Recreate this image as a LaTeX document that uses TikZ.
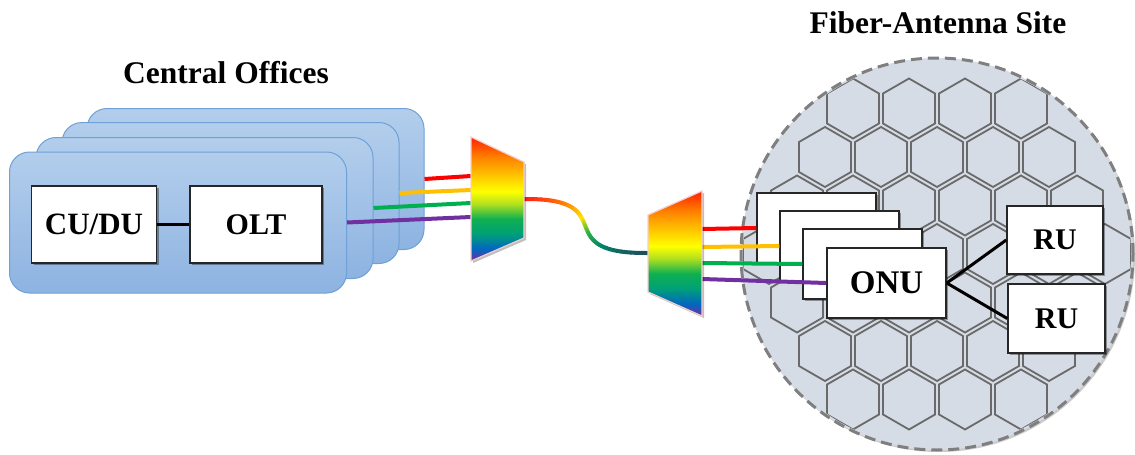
\documentclass[tikz,border=0pt]{standalone}
\usepackage{fontspec}
\setmainfont{Liberation Serif}
\usetikzlibrary{shadows}

\newcommand\lblfont{\bfseries\fontsize{30}{34}\selectfont}
\newcommand\bigfont{\bfseries\fontsize{31.5}{36}\selectfont}

% palette
\definecolor{coFillTop}{HTML}{B3CEEC}
\definecolor{coFillBot}{HTML}{8DB3E1}
\definecolor{coEdge}{HTML}{6FA0D6}
\definecolor{siteFill}{HTML}{D6DCE5}
\definecolor{siteEdge}{HTML}{7F7F7F}
\definecolor{hexEdge}{HTML}{6A6A6A}
\definecolor{wRed}{HTML}{FF0000}
\definecolor{wYellow}{HTML}{FFC000}
\definecolor{wGreen}{HTML}{00B050}
\definecolor{wPurple}{HTML}{7030A0}
\definecolor{muxEdge}{HTML}{F2CFCF}
% rainbow stops of the (de)multiplexers
\definecolor{mPurple}{HTML}{7030A0}
\definecolor{mBlue}{HTML}{0068C0}
\definecolor{mTeal}{HTML}{00A078}
\definecolor{mGreen}{HTML}{10B050}
\definecolor{mLime}{HTML}{B0E020}
\definecolor{mYellow}{HTML}{FFFF00}
\definecolor{mGold}{HTML}{FFC000}
\definecolor{mOrange}{HTML}{FF8000}
\definecolor{mRed}{HTML}{FF2000}
% stops along the trunk fibre
\definecolor{fRed}{HTML}{FF1A1A}
\definecolor{fOrange}{HTML}{FF8C00}
\definecolor{fYellow}{HTML}{FFE600}
\definecolor{fGreen}{HTML}{2DB34A}
\definecolor{fTeal}{HTML}{00806A}
\definecolor{fDark}{HTML}{1F4D5C}

\pgfdeclareverticalshading{rainbow}{100bp}{%
  color(0bp)=(mPurple); color(25bp)=(mPurple); color(30bp)=(mBlue);
  color(36bp)=(mTeal); color(42bp)=(mGreen); color(48bp)=(mLime);
  color(53bp)=(mYellow); color(60bp)=(mGold); color(67bp)=(mOrange);
  color(75bp)=(mRed); color(100bp)=(mRed)}

\begin{document}
\begin{tikzpicture}[x=1pt,y=-1pt,
  cobox/.style={draw=coEdge, line width=1, rounded corners=20,
    top color=coFillTop, bottom color=coFillBot,
    minimum width=337, minimum height=141, inner sep=0},
  wbox/.style={draw=black!85, line width=1.5, fill=white, font=\lblfont,
    inner sep=0, drop shadow={shadow xshift=2pt, shadow yshift=-2pt,
    opacity=0.35, fill=black}},
  title/.style={font=\bigfont, inner sep=0},
  link/.style={draw=black, line width=2.5},
  wire/.style={line width=4},
  hexcell/.style={draw=hexEdge, line width=1.8},
  mux/.style={shade, shading=rainbow, draw=muxEdge, line width=1.2,
    drop shadow={shadow xshift=2pt, shadow yshift=-2pt, opacity=0.25, fill=black}},
  siteDisc/.style={circle, fill=siteFill, minimum size=392, inner sep=0,
    drop shadow={shadow xshift=2pt, shadow yshift=-2pt, opacity=0.2, fill=black}},
  siteRing/.style={circle, draw=siteEdge, line width=3, dash pattern=on 11pt off 6pt,
    minimum size=392, inner sep=0}
]
\useasboundingbox (0,0) rectangle (1135,455);

% ---------------- central offices ----------------
\node[cobox] (co4) at (255.5,179) {};
\node[cobox] (co3) at (230.5,193) {};
\node[cobox] (co2) at (204.5,208) {};
\node[cobox] (co1) at (178,222.5) {};
\node[wbox, font=\bfseries\fontsize{31}{36}\selectfont,
  minimum width=125, minimum height=77] (cudu) at (94,224.5) {CU/DU};
\node[wbox, minimum width=132, minimum height=77] (olt) at (256,224.5) {OLT};
\draw[link] (cudu) -- (olt);
\node[title] (cotitle) at (226,73) {Central Offices};

% ---------------- fibre-antenna site ----------------
\node[siteDisc] (site) at (937,254) {};
% honeycomb of cells: rows of 4,5,6,7,6,5,4 around the centre
\begin{scope}
  \clip (site.center) circle[radius=194];
  \foreach \r in {-3,...,3}{
    \pgfmathtruncatemacro\n{6-abs(\r)}
    \pgfmathsetmacro\yy{254+48.5*\r}
    \foreach \c in {0,...,\n}{
      \pgfmathsetmacro\xx{937-28*\n+56*\c}
      \draw[hexcell] (\xx,\yy) +(90:30) -- +(150:30) -- +(210:30)
        -- +(270:30) -- +(330:30) -- +(30:30) -- cycle;
    }
  }
\end{scope}
\node[siteRing] (ring) at (site.center) {};
\node[title] (sitetitle) at (938,23) {Fiber-Antenna Site};

\node[wbox, minimum width=119, minimum height=70] (onu1) at (816.5,228) {};
\node[wbox, minimum width=119, minimum height=70] (onu2) at (839.5,246) {};
\node[wbox, minimum width=119, minimum height=70] (onu3) at (862.5,264) {};
\node[wbox, font=\bfseries\fontsize{33}{38}\selectfont,
  minimum width=119, minimum height=70] (onu4) at (886.5,283) {ONU};
\node[wbox, minimum width=96, minimum height=68] (ru1) at (1055,240) {RU};
\node[wbox, minimum width=97, minimum height=69] (ru2) at (1056.5,318.5) {RU};
\draw[link, line width=3] (onu4.east) -- (ru1.west);
\draw[link, line width=3] (onu4.east) -- (ru2.west);

% ---------------- wavelength ports ----------------
\coordinate (m1a) at (471,176);
\coordinate (m1b) at (471,190);
\coordinate (m1c) at (471,203);
\coordinate (m1d) at (471,217);
\coordinate (m1o) at (524,199);
\coordinate (m2i) at (648,253);
\coordinate (m2a) at (702,229);
\coordinate (m2b) at (702,247);
\coordinate (m2c) at (702,263);
\coordinate (m2d) at (702,279);

\draw[wire, wRed]    (co4.east) -- (m1a);
\draw[wire, wYellow] (co3.east) -- (m1b);
\draw[wire, wGreen]  (co2.east) -- (m1c);
\draw[wire, wPurple] (co1.east) -- (m1d);

\draw[wire, wRed]    (m2a) -- (onu1.west);
\draw[wire, wYellow] (m2b) -- (onu2.west);
\draw[wire, wGreen]  (m2c) -- (onu3.west);
\draw[wire, wPurple] (m2d) -- (onu4.west);

% trunk fibre, coloured piece by piece along its length
\path (m1o) .. controls (625,198) and (545,254) .. (m2i)
  \foreach \k in {0,...,48}{ coordinate[pos=\k/48] (f\k) };
\foreach \k in {1,...,48}{
  \pgfmathtruncatemacro\kp{\k-1}
  \pgfmathsetmacro\t{(\k-0.5)/48}
  \ifdim\t pt<0.22pt
    \pgfmathsetmacro\p{\t/0.22*100}\colorlet{fc}{fOrange!\p!fRed}
  \else\ifdim\t pt<0.42pt
    \pgfmathsetmacro\p{(\t-0.22)/0.20*100}\colorlet{fc}{fYellow!\p!fOrange}
  \else\ifdim\t pt<0.60pt
    \pgfmathsetmacro\p{(\t-0.42)/0.18*100}\colorlet{fc}{fGreen!\p!fYellow}
  \else\ifdim\t pt<0.80pt
    \pgfmathsetmacro\p{(\t-0.60)/0.20*100}\colorlet{fc}{fTeal!\p!fGreen}
  \else
    \pgfmathsetmacro\p{(\t-0.80)/0.20*100}\colorlet{fc}{fDark!\p!fTeal}
  \fi\fi\fi\fi
  \draw[fc, line width=4, line cap=round] (f\kp) -- (f\k);
}

% multiplexer and demultiplexer
\path[mux] (471,137) -- (524,162) -- (524,238) -- (471,261) -- cycle;
\path[mux] (648,215) -- (702,191) -- (702,316) -- (648,292) -- cycle;
\end{tikzpicture}
\end{document}
